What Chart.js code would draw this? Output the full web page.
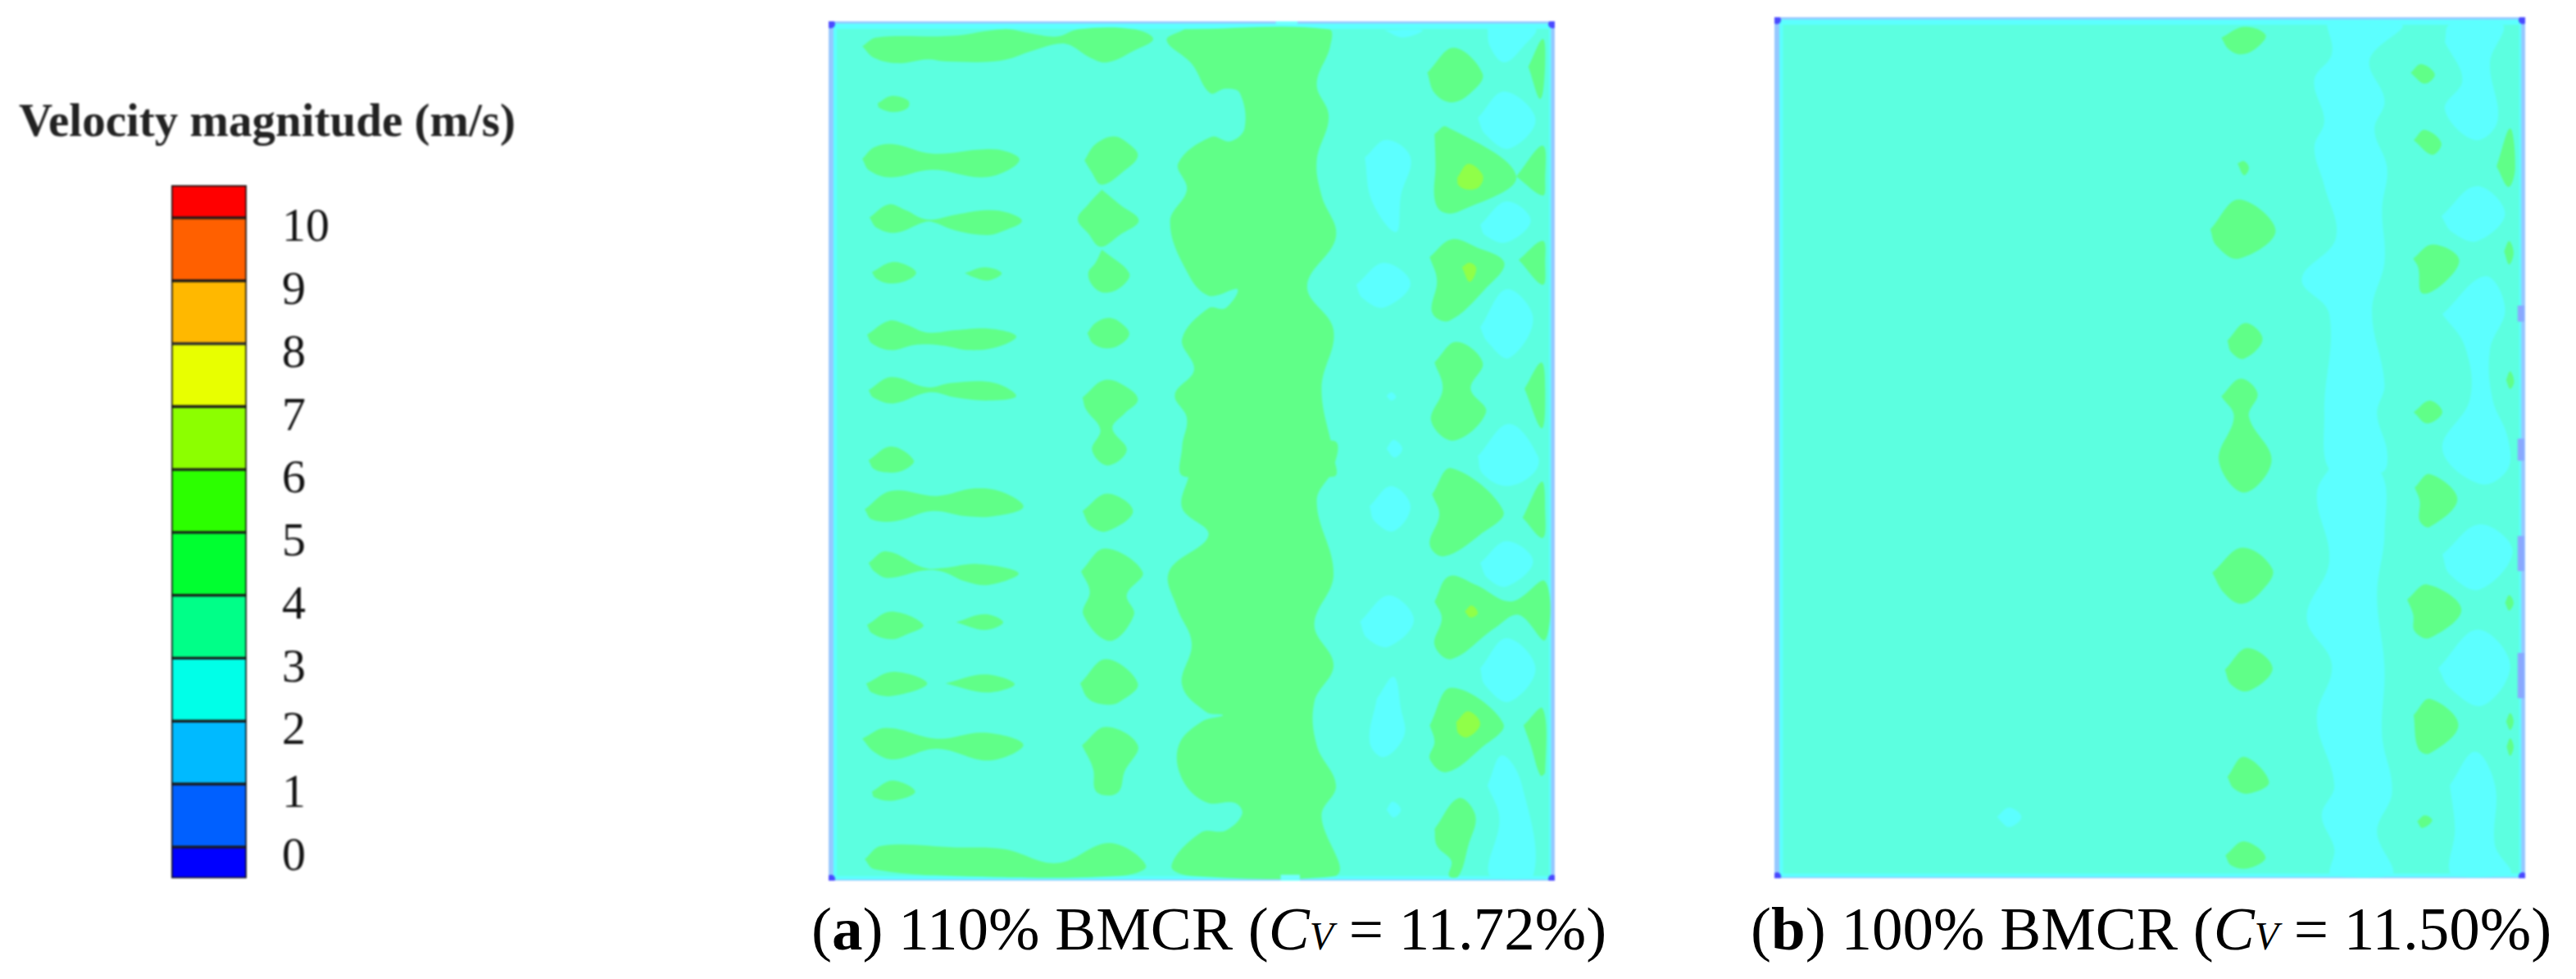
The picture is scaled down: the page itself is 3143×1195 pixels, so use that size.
<!DOCTYPE html>
<html><head><meta charset="utf-8">
<style>
html,body{margin:0;padding:0;background:#fff;width:3143px;height:1195px;overflow:hidden}
canvas{position:absolute;display:block}
#cA{left:1011px;top:26px;filter:blur(1px)}
#cB{left:2164.5px;top:21px;filter:blur(1px)}
#cL{left:0;top:100px;filter:blur(1px)}
.cap{position:absolute;font-family:"Liberation Serif",serif;font-size:75px;color:#000;white-space:nowrap;line-height:80px}
.cap i.sub{font-size:48px}
</style></head><body>
<canvas id="cL" width="652" height="1042"></canvas>
<canvas id="cA" width="886" height="1049"></canvas>
<canvas id="cB" width="916" height="1051"></canvas>
<div class="cap" style="left:990px;top:1094px">(<b>a</b>) 110% BMCR (<i>C</i><i class="sub">V</i> = 11.72%)</div>
<div class="cap" style="left:2136px;top:1094px">(<b>b</b>) 100% BMCR (<i>C</i><i class="sub">V</i> = 11.50%)</div>
<script src="https://cdn.jsdelivr.net/npm/chart.js@4"></script>
<script>
// ---------- colour legend ----------
const legendTitle = "Velocity magnitude (m/s)";
const legendTicks = [0,1,2,3,4,5,6,7,8,9,10];
const bandLow  = [-0.5,0,1,2,3,4,5,6,7,8,9,10];
const bandHigh = [0,1,2,3,4,5,6,7,8,9,10,10.52];
const bandColors = ["#0000ff","#0060ff","#00baff","#00ffe8","#00ff88","#00ff30","#2cff00","#8cff00","#e8ff00","#ffb800","#ff6000","#ff0000"];

// ---------- panel colours ----------
const cRim="#96c8ff", cEdge="#5cffff", cBase="#5cffe0", cLow="#5cffff", cMid="#60ff88", cHigh="#90ff48", cCorner="#4a4aff", cDash="#8aa8ff";

// ---------- panel (a): outline points in grid units; y counted downward ----------
const domainA = [35,1545,45,2980];
const a_greenUpper = [
[[105,130],[135,100],[290,95],[400,72],[450,85],[510,97],[555,72],[670,72],[710,105],[670,145],[615,185],[580,170],[535,125],[510,122],[460,145],[390,180],[280,182],[240,175],[180,188],[130,170]],
[[137,325],[165,300],[200,315],[200,340],[170,355],[140,340]],
[[105,515],[130,475],[170,465],[250,497],[360,482],[405,490],[432,518],[400,560],[350,578],[250,552],[165,578],[120,555]],
[[567,520],[590,465],[628,438],[660,465],[678,505],[650,555],[603,603],[580,555]],
[[603,620],[640,670],[680,725],[640,775],[600,815],[575,770],[553,720],[575,670]],
[[603,825],[660,905],[645,950],[610,972],[585,950],[575,905],[590,870]],
[[120,715],[160,670],[195,690],[240,722],[300,705],[365,690],[410,700],[437,728],[400,760],[365,775],[300,760],[250,730],[232,732],[175,767],[135,750]],
[[125,902],[165,868],[200,880],[217,905],[195,932],[160,940],[135,925]],
[[318,905],[360,885],[395,905],[368,930],[335,918]],
[[115,1115],[160,1068],[195,1080],[240,1108],[300,1100],[370,1095],[425,1120],[390,1155],[330,1168],[270,1152],[215,1150],[165,1168],[125,1145]],
[[573,1110],[590,1075],[620,1058],[650,1085],[660,1115],[640,1150],[612,1162],[585,1145]],
[[118,1305],[165,1260],[240,1295],[290,1280],[380,1280],[425,1325],[370,1340],[300,1330],[245,1312],[170,1350],[128,1330]],
[[563,1330],[610,1270],[660,1300],[678,1340],[650,1385],[625,1435],[655,1510],[615,1562],[583,1510],[600,1440],[570,1370]],
[[775,72],[1075,72],[1078,130],[1050,260],[1075,370],[1050,520],[1060,640],[1090,780],[1030,950],[1085,1100],[1060,1300],[1085,1530],[1085,1600],[775,1600],[770,1500],[780,1400],[755,1320],[795,1235],[770,1130],[825,1025],[860,1025],[885,960],[825,982],[780,900],[745,730],[780,620],[762,530],[830,440],[870,455],[900,410],[890,290],[860,275],[828,290],[790,190],[738,110]],
[[1280,220],[1335,135],[1395,225],[1370,290],[1330,322],[1295,290]],
[[1295,430],[1320,405],[1465,575],[1345,695],[1310,695],[1295,650],[1297,540]],
[[1465,575],[1520,470],[1525,590],[1520,640]],
[[1490,200],[1520,105],[1525,190],[1515,310]],
[[1285,850],[1330,790],[1380,815],[1440,870],[1400,960],[1325,1068],[1290,1040],[1300,930]],
[[1470,860],[1520,795],[1525,870],[1520,945]],
[[1295,1210],[1340,1140],[1395,1210],[1370,1300],[1402,1380],[1335,1477],[1288,1410],[1312,1300]],
[[1482,1300],[1517,1210],[1525,1300],[1518,1435]]
];
const a_highUpper = [
[[1342,580],[1365,532],[1395,570],[1388,610],[1365,620],[1345,605]],
[[1352,885],[1368,870],[1382,890],[1368,935]]
];
const a_cyanUpper = [
[[1405,70],[1505,70],[1480,130],[1440,185],[1410,130]],
[[1190,75],[1270,75],[1230,100]],
[[1385,375],[1440,285],[1505,380],[1450,480],[1400,430]],
[[1150,510],[1195,450],[1245,510],[1225,640],[1215,765],[1165,660]],
[[1390,740],[1445,660],[1495,725],[1445,800],[1400,775]],
[[1132,945],[1190,870],[1245,940],[1190,1022],[1145,990]],
[[1390,1090],[1445,960],[1500,1060],[1450,1195],[1405,1140]],
[[1195,1325],[1205,1312],[1215,1328],[1205,1340]],
[[1195,1505],[1210,1475],[1228,1505],[1212,1535]],
[[1385,1530],[1450,1420],[1510,1530],[1500,1590],[1445,1632],[1395,1590]]
];
// lower half of panel (a): y in lower-grid units (y' = 1512 + 1.143 y)
const a_greenLower = [
[[118,28],[165,-13],[212,28],[195,55],[165,65],[130,55]],
[[110,175],[165,120],[260,135],[340,112],[400,125],[440,168],[380,195],[320,195],[250,180],[175,210],[125,205]],
[[563,180],[615,128],[668,180],[615,240],[580,225]],
[[118,335],[155,300],[235,350],[275,350],[345,338],[430,365],[370,400],[320,390],[270,360],[230,358],[160,380],[130,360]],
[[560,360],[610,292],[688,362],[655,430],[670,490],[620,568],[565,490],[578,420]],
[[115,520],[165,480],[232,520],[195,550],[165,563],[125,545]],
[[300,512],[360,488],[398,512],[360,535]],
[[113,695],[170,660],[240,695],[170,732],[125,722]],
[[278,695],[360,668],[422,697],[365,722]],
[[558,695],[612,622],[678,695],[640,750],[610,758],[575,740]],
[[105,860],[155,828],[260,860],[360,842],[440,878],[370,925],[260,890],[170,922],[130,900]],
[[562,880],[612,825],[678,880],[650,960],[640,1015],[618,1030],[590,1015],[585,950]],
[[125,1018],[168,985],[215,1018],[170,1045],[130,1035]],
[[110,1220],[145,1180],[300,1185],[400,1190],[510,1232],[620,1172],[695,1240],[640,1270],[300,1270],[130,1250]],
[[775,-30],[1085,-30],[1085,50],[1050,150],[1085,370],[1045,520],[1085,640],[1045,750],[1050,880],[1090,1000],[1060,1090],[1090,1270],[790,1270],[748,1240],[810,1140],[860,1135],[895,1085],[880,1052],[820,1050],[770,980],[763,880],[810,810],[855,790],[820,780],[770,700],[790,575],[760,470],[743,360],[825,252],[770,170],[785,60]],
[[1290,130],[1330,52],[1438,180],[1390,250],[1315,315],[1285,280],[1305,190]],
[[1478,200],[1518,92],[1525,180],[1520,260]],
[[1295,450],[1325,375],[1380,400],[1455,450],[1525,390],[1525,565],[1470,490],[1420,530],[1330,622],[1295,580],[1310,500]],
[[1285,820],[1330,708],[1438,815],[1390,890],[1320,960],[1285,920],[1295,870]],
[[1480,820],[1520,770],[1525,960],[1515,970],[1495,880]],
[[1295,1130],[1345,1038],[1380,1090],[1365,1180],[1345,1270],[1325,1270],[1330,1225],[1300,1180]]
];
const a_highLower = [
[[1358,480],[1372,462],[1385,485],[1370,498]],
[[1340,810],[1365,778],[1390,815],[1365,855],[1345,845]]
];
const a_cyanLower = [
[[1160,165],[1205,105],[1245,165],[1210,240],[1170,210]],
[[1390,335],[1445,270],[1500,330],[1445,405],[1405,380]],
[[1140,510],[1200,432],[1252,505],[1200,585],[1155,560]],
[[1390,650],[1445,560],[1505,650],[1450,750],[1400,700]],
[[1175,740],[1210,675],[1225,770],[1232,850],[1190,915],[1160,870]],
[[1195,1072],[1208,1048],[1225,1072],[1210,1095]],
[[1405,1000],[1435,910],[1475,990],[1500,1270],[1410,1270],[1430,1100]]
];

// ---------- panel (b) ----------
const domainB = [40,1535,45,2987];
const b_greenUpper = [
[[930,115],[975,78],[1018,105],[1000,150],[970,172],[945,155]],
[[962,545],[975,537],[985,560],[975,585]],
[[908,770],[965,668],[1038,775],[965,870],[920,825]],
[[942,1150],[978,1090],[1012,1145],[975,1212],[950,1190]],
[[930,1340],[968,1280],[1002,1330],[985,1410],[1030,1560],[975,1669],[925,1560],[955,1410]],
[[1307,235],[1328,205],[1355,240],[1335,272]],
[[1313,465],[1335,430],[1368,475],[1350,515]],
[[1478,555],[1505,425],[1515,560],[1502,625]],
[[1312,870],[1350,822],[1403,870],[1375,950],[1330,988],[1322,900]],
[[1493,845],[1503,810],[1512,850],[1503,890]],
[[1313,1395],[1345,1355],[1370,1395],[1340,1433]],
[[1497,1285],[1505,1255],[1513,1290],[1505,1315]]
];
const b_cyanUpper = [
[[1140,70],[1290,70],[1225,190],[1255,330],[1235,430],[1260,560],[1250,700],[1255,880],[1230,1050],[1255,1300],[1240,1400],[1260,1530],[1250,1600],[1150,1600],[1135,1400],[1145,1060],[1090,940],[1158,800],[1135,620],[1115,490],[1135,400],[1115,260],[1150,170]],
[[1375,130],[1385,70],[1490,70],[1465,200],[1480,400],[1435,465],[1375,360],[1410,260]],
[[1368,725],[1438,622],[1495,715],[1440,810],[1390,780]],
[[1370,1060],[1455,930],[1495,1040],[1465,1180],[1470,1350],[1500,1480],[1500,1590],[1445,1640],[1370,1520],[1425,1350],[1415,1170]]
];
const b_dashUpper = [
[[1520,1030],[1533,1030],[1533,1085],[1520,1085]],
[[1520,1485],[1533,1485],[1533,1560],[1520,1560]]
];
// lower half of panel (b): y' = 1526 + 1.143 y
const b_greenLower = [
[[912,365],[972,290],[1032,355],[1010,420],[970,458],[935,425]],
[[937,655],[982,590],[1032,650],[985,718],[950,700]],
[[942,975],[975,915],[1025,990],[985,1025],[955,1010]],
[[938,1210],[975,1168],[1018,1215],[985,1248],[950,1240]],
[[1315,110],[1345,70],[1400,145],[1345,228],[1325,210],[1325,150]],
[[1300,445],[1340,400],[1408,475],[1345,560],[1315,540],[1312,490]],
[[1313,790],[1345,742],[1402,820],[1345,905],[1322,890]],
[[1320,1108],[1335,1090],[1350,1105],[1330,1128]],
[[1495,455],[1503,432],[1512,455],[1503,478]],
[[1497,810],[1505,785],[1512,810],[1505,835]],
[[1498,885],[1505,860],[1512,885],[1505,912]]
];
const b_cyanLower = [
[[1150,40],[1245,60],[1255,250],[1240,430],[1255,650],[1250,850],[1270,1020],[1240,1140],[1270,1270],[1150,1270],[1155,1190],[1130,1090],[1155,1000],[1120,800],[1150,640],[1100,500],[1145,330],[1120,130]],
[[1370,310],[1445,220],[1510,300],[1445,415],[1385,370]],
[[1362,650],[1440,535],[1505,640],[1450,762],[1385,710]],
[[1385,1000],[1435,900],[1475,1000],[1475,1180],[1505,1265],[1390,1270],[1395,1130]],
[[483,1095],[507,1067],[532,1095],[507,1125]]
];
const b_dashLower = [
[[1520,255],[1533,255],[1533,360],[1520,360]],
[[1520,605],[1533,605],[1533,740],[1520,740]]
];

// ---------- helpers ----------
const pts = (poly, off=0, k=1) => {
  const p = poly.map(([x,y]) => ({x, y: off + k*y}));
  p.push({...p[0]});
  return p;
};
const area = (data, color, tension=0.38) => ({
  type:'scatter', data, showLine:true, fill:'shape', backgroundColor:color,
  borderWidth:0, pointRadius:0, tension
});
const rect = (x0,x1,y0,y1) => [[x0,y0],[x1,y0],[x1,y1],[x0,y1]];

function panel(id, dom, layers, strips){
  const [xa,xb,ya,yb] = dom;
  const ds = [
    area(pts(rect(xa,xb,ya,yb)), cRim, 0),
    area(pts(rect(xa+10,xb-8,ya+8,yb-4)), cEdge, 0),
    area(pts(rect(xa+17,xb-12,ya+26,yb-16)), cBase, 0),
  ];
  layers.forEach(l => l.polys.forEach(p => ds.push(area(pts(p,l.off||0,l.k||1), l.color, l.tension))));
  strips.forEach(s => ds.push(area(pts(s.r), s.color, 0)));
  ds.push({type:'scatter', data:[{x:xa+5,y:ya+10},{x:xb-5,y:ya+10},{x:xa+5,y:yb-6},{x:xb-5,y:yb-6}],
           showLine:false, pointRadius:5, pointBackgroundColor:cCorner, pointBorderWidth:0});
  // Chart.js paints the first dataset last, so list them topmost first
  ds.reverse();
  new Chart(document.getElementById(id),{
    type:'scatter', data:{datasets:ds},
    options:{responsive:false, animation:false, devicePixelRatio:1, layout:{autoPadding:false},
      plugins:{legend:{display:false},tooltip:{enabled:false},title:{display:false}},
      scales:{x:{type:'linear',min:xa,max:xb,display:false},
              y:{type:'linear',min:ya,max:yb,reverse:true,display:false}}}
  });
}

panel('cA', domainA, [
  {polys:a_cyanUpper,color:cLow},
  {polys:a_cyanLower,color:cLow,off:1512,k:1.143},
  {polys:a_greenUpper,color:cMid},
  {polys:a_greenLower,color:cMid,off:1512,k:1.143},
  {polys:a_highUpper,color:cHigh},
  {polys:a_highLower,color:cHigh,off:1512,k:1.143},
],[
  {r:rect(965,1010,45,56),color:"#70ffff"},
  {r:rect(975,1015,2960,2980),color:"#70ffff"},
]);

panel('cB', domainB, [
  {polys:b_cyanUpper,color:cLow},
  {polys:b_cyanLower,color:cLow,off:1526,k:1.143},
  {polys:b_greenUpper,color:cMid},
  {polys:b_greenLower,color:cMid,off:1526,k:1.143},
  {polys:b_dashUpper,color:cDash,tension:0},
  {polys:b_dashLower,color:cDash,off:1526,k:1.143,tension:0},
],[]);

// legend colour bar
new Chart(document.getElementById('cL'),{
  type:'bar',
  data:{labels:['v'],datasets:bandLow.map((lo,i)=>({
    data:[[lo,bandHigh[i]]], backgroundColor:bandColors[i], borderColor:'#1a1a1a',
    borderWidth:2, borderSkipped:false, grouped:false, barPercentage:1, categoryPercentage:1,
    yAxisID:'y'
  }))},
  options:{responsive:false, animation:false, devicePixelRatio:1,
    layout:{padding:{left:0,right:0,top:0,bottom:17}},
    plugins:{legend:{display:false},tooltip:{enabled:false},
      title:{display:true,text:legendTitle,color:'#222',
        font:{family:'"Liberation Serif",serif',size:57,weight:'bold',lineHeight:1},
        padding:{top:23,bottom:46}}},
    scales:{
      x:{display:false},
      pad:{position:'left',display:true,min:0,max:1,
        grid:{display:false},border:{display:false},
        ticks:{display:false},afterFit(s){s.width=209;}},
      y:{position:'right',min:-0.5,max:10.52,
        grid:{display:false},border:{display:false},
        afterBuildTicks(s){s.ticks=legendTicks.map(v=>({value:v}));},
        afterFit(s){s.width=351;},
        ticks:{color:'#111',padding:35,labelOffset:13,autoSkip:false,
          font:{family:'"Liberation Serif",serif',size:58},
          callback:v=>String(v)}}
    }}
});
</script>
</body></html>
